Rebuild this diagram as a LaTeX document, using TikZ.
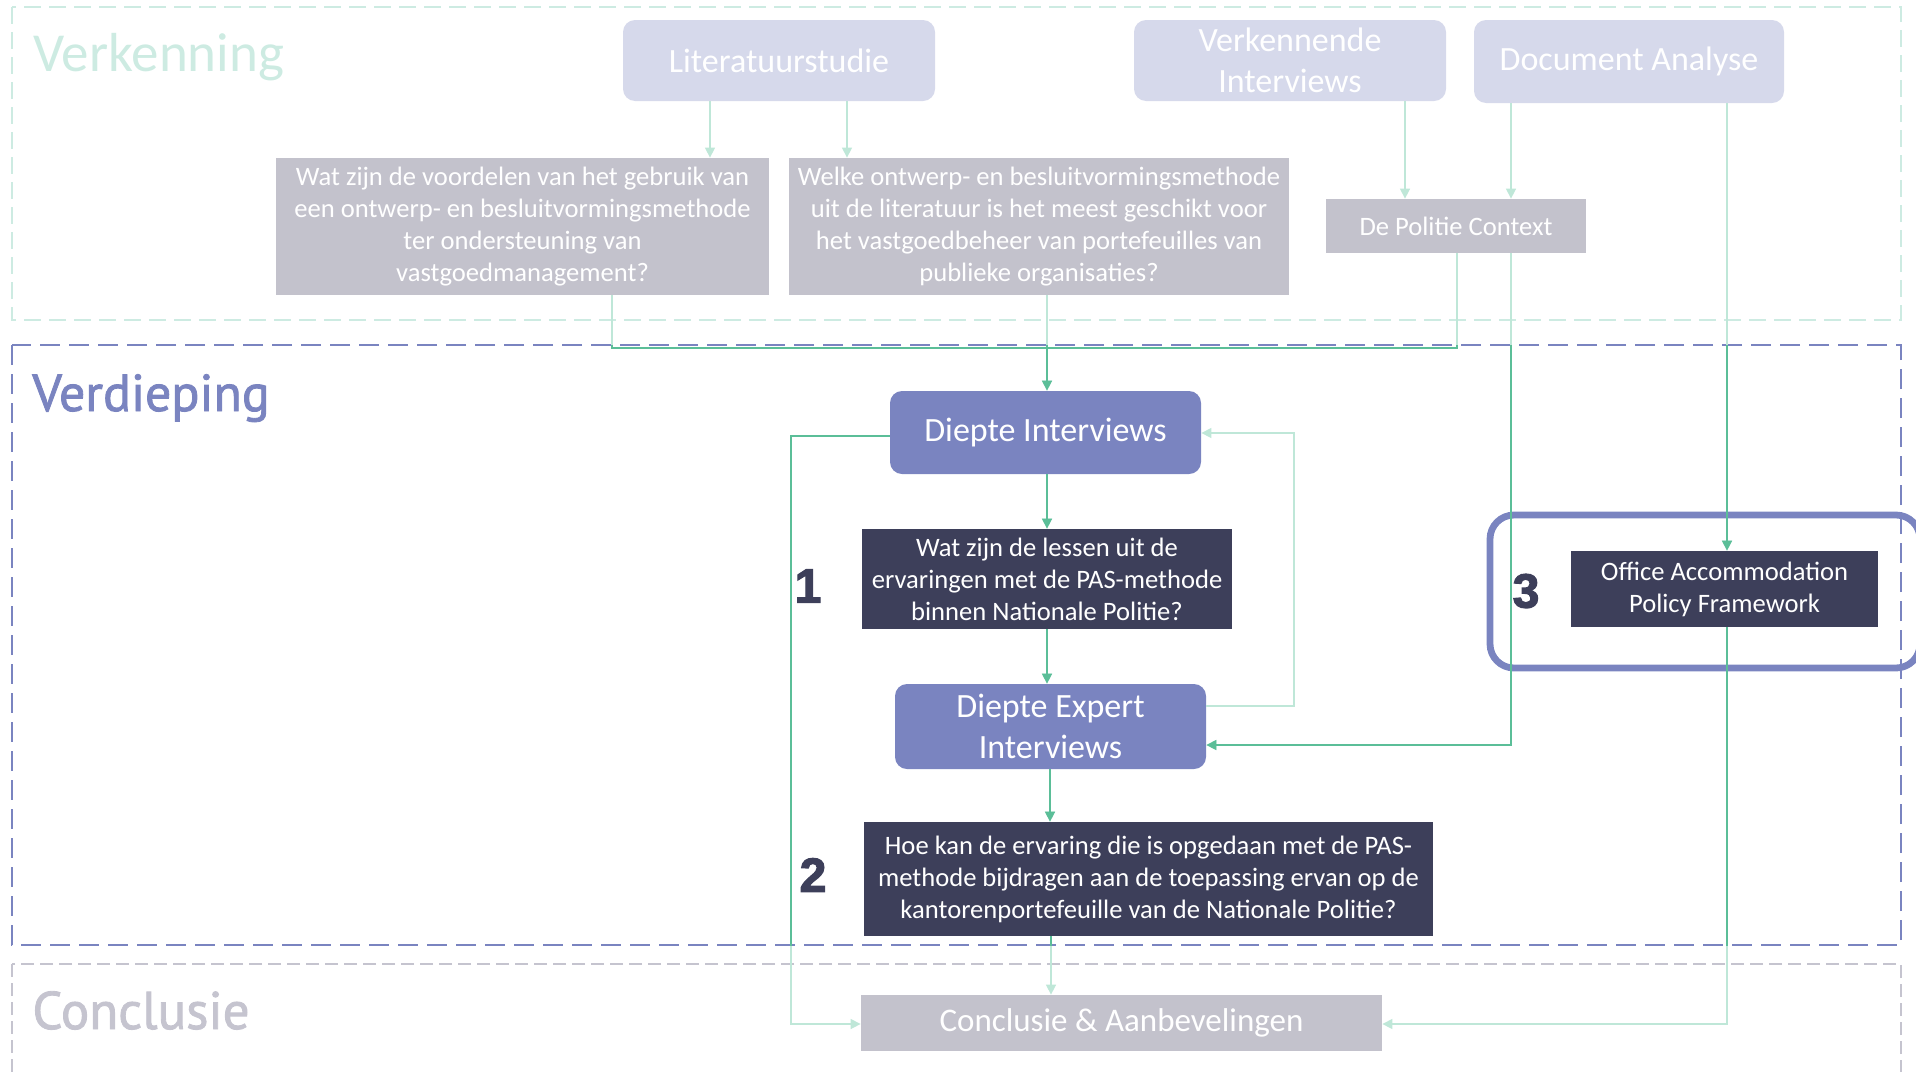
\documentclass[tikz,border=0pt]{standalone}
\usepackage{fontspec}
\setmainfont{Carlito}
\newfontfamily\headfont{PT Sans}[FakeBold=1.6]
\newfontfamily\numfont{Liberation Sans Bold}[FakeBold=2.5]
\usetikzlibrary{arrows.meta}
\definecolor{lav}{HTML}{D6D9EB}
\definecolor{gry}{HTML}{C3C2CC}
\definecolor{peri}{HTML}{7A84C0}
\definecolor{navy}{HTML}{3D3F5A}
\definecolor{mint}{HTML}{CDEBE2}
\definecolor{cgray}{HTML}{C5C4CF}
\definecolor{gmed}{HTML}{5BBE98}
\definecolor{glight}{HTML}{BFE7D8}
\newcommand\myconnectors[1]{%
  \draw[conn,draw=#1] (710,0 |- lit.south) -- (710,0 |- q1.north);
  \draw[conn,draw=#1] (847,0 |- lit.south) -- (847,0 |- q2.north);
  \draw[conn,draw=#1] (1405,0 |- verk.south) -- (1405,0 |- pol.north);
  \draw[conn,draw=#1] (1511,0 |- doc.south) -- (1511,0 |- pol.north);
  \draw[conn,draw=#1] (1727,0 |- doc.south) -- (1727,0 |- off.north);
  \draw[plainline,draw=#1] (612,0 |- q1.south) |- (1047,348);
  \draw[plainline,draw=#1] (1457,0 |- pol.south) |- (1047,348);
  \draw[conn,draw=#1] (1047,0 |- q2.south) -- (1047,0 |- di.north);
  \draw[conn,draw=#1] (1511,0 |- pol.south) |- (dei.east |- 0,745);
  \draw[conn,draw=#1] (1047,0 |- di.south) -- (1047,0 |- q3.north);
  \draw[conn,draw=#1] (1047,0 |- q3.south) -- (1047,0 |- dei.north);
  \draw[conn,draw=#1] (1050,0 |- dei.south) -- (1050,0 |- q4.north);
  \draw[conn,draw=#1] (1051,0 |- q4.south) -- (1051,0 |- con.north);
  \draw[conn,draw=#1] (di.west |- 0,436) -- (791,436) -- (791,1024) -- (con.west |- 0,1024);
  \draw[conn,draw=#1] (1727,0 |- off.south) |- (con.east |- 0,1024);
}
\begin{document}
\begin{tikzpicture}[x=0.5pt,y=-0.5pt,
  topbox/.style={rounded corners=6pt, fill=lav, text=white, minimum width=156pt, minimum height=40.5pt, font=\fontsize{17}{20.5}\selectfont, align=center, inner sep=0pt},
  qbox/.style={fill=gry, text=white, font=\fontsize{13.3}{16}\selectfont, align=center, inner sep=0pt},
  midbox/.style={rounded corners=6pt, fill=peri, text=white, minimum width=155.5pt, font=\fontsize{17}{20.5}\selectfont, align=center, inner sep=0pt},
  darkbox/.style={fill=navy, text=white, font=\fontsize{13.3}{16}\selectfont, align=center, inner sep=0pt},
  conn/.style={line width=0.75pt, -{Triangle[width=5pt,length=5pt]}},
  plainline/.style={line width=0.75pt},
  frame/.style={line width=1.35pt},
  numlabel/.style={text=navy, font=\numfont\fontsize{24}{24}\selectfont, inner sep=0pt}
]
\useasboundingbox (0,0) rectangle (1916,1071);
\clip (0,0) rectangle (1916,1071);
% frames
\draw[frame, draw=mint, dash pattern=on 8.5pt off 4pt] (12,7) rectangle (1901,320);
\draw[frame, draw=peri, dash pattern=on 10pt off 4.5pt] (12,345) rectangle (1901,945);
\draw[frame, draw=cgray, dash pattern=on 6.5pt off 3pt] (12,964) rectangle (1901,1100);
\draw[line width=3.4pt, draw=peri, rounded corners=12pt] (1490,515) rectangle (1920,668);
% headings
\node[anchor=base west, text=mint, font=\fontsize{27.5}{27.5}\selectfont, inner sep=0pt] (hverk) at (33,71) {Verkenning};
\node[anchor=base west, text=peri, font=\headfont\fontsize{26}{26}\selectfont, inner sep=0pt] (hverd) at (32,411) {Verdieping};
\node[anchor=base west, text=cgray, font=\headfont\fontsize{26.5}{26.5}\selectfont, inner sep=0pt] (hconc) at (32,1029) {Conclusie};
% top row
\node[topbox] (lit) at (779,60.5) {Literatuurstudie};
\node[topbox] (verk) at (1290,60.5) {Verkennende\\Interviews};
\node[topbox, minimum width=155pt, minimum height=41.5pt] (doc) at (1629,61.5) {Document Analyse};
% questions in Verkenning
\node[qbox, minimum width=246.5pt, minimum height=68.5pt] (q1) at (522.5,226.5) {Wat zijn de voordelen van het gebruik van\\een ontwerp- en besluitvormingsmethode\\ter ondersteuning van\\vastgoedmanagement?};
\node[qbox, minimum width=250pt, minimum height=68.5pt] (q2) at (1039,226.5) {Welke ontwerp- en besluitvormingsmethode\\uit de literatuur is het meest geschikt voor\\het vastgoedbeheer van portefeuilles van\\publieke organisaties?};
\node[qbox, minimum width=130pt, minimum height=27pt] (pol) at (1456,226) {De Politie Context};
% Verdieping
\node[midbox, minimum height=41.5pt] (di) at (1045.5,432.5) {Diepte Interviews};
\node[darkbox, minimum width=185pt, minimum height=50pt] (q3) at (1047,579) {Wat zijn de lessen uit de\\ervaringen met de PAS-methode\\binnen Nationale Politie?};
\node[midbox, minimum height=42.5pt] (dei) at (1050.5,726.5) {Diepte Expert\\Interviews};
\node[darkbox, minimum width=284.5pt, minimum height=57pt] (q4) at (1148.5,879) {Hoe kan de ervaring die is opgedaan met de PAS-\\methode bijdragen aan de toepassing ervan op de\\kantorenportefeuille van de Nationale Politie?};
\node[darkbox, minimum width=153.5pt, minimum height=38pt] (off) at (1724.5,589) {Office Accommodation\\Policy Framework};
% Conclusie
\node[qbox, minimum width=260.5pt, minimum height=28pt, font=\fontsize{16.5}{20}\selectfont] (con) at (1121.5,1023) {Conclusie \& Aanbevelingen};
% numbers
\node[numlabel] (n1) at (808,586) {1};
\node[numlabel] (n2) at (813,875) {2};
\node[numlabel] (n3) at (1526,591) {3};
% connectors: light pass, then medium pass inside Verdieping
\myconnectors{glight}
\begin{scope}
\clip (0,345) rectangle (1916,945);
\myconnectors{gmed}
\end{scope}
\draw[conn, draw=glight] (dei.east |- 0,706) -- (1294,706) -- (1294,433) -- (di.east |- 0,433);
\end{tikzpicture}
\end{document}
